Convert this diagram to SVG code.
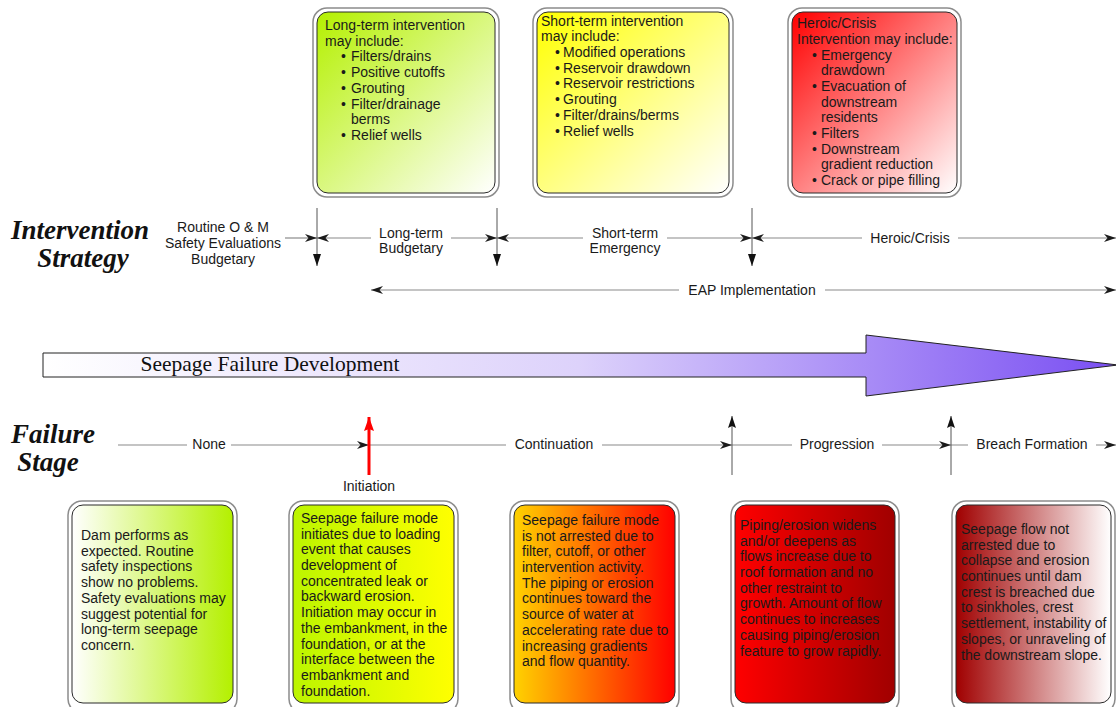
<svg xmlns="http://www.w3.org/2000/svg" width="1116" height="707" viewBox="0 0 1116 707">
<style>
.t{font-family:"Liberation Sans",Arial,sans-serif;font-size:14px;fill:#1a1a1a}
.c{text-anchor:middle}
.h{font-family:"Liberation Serif","Times New Roman",serif;font-weight:bold;font-style:italic;font-size:27px;fill:#111;text-anchor:middle}
.outer{fill:#fff;stroke:#8c8c8c;stroke-width:1.5}
.inner{stroke:#2a2a2a;stroke-width:1}
.hl{stroke:#8a8a8a;stroke-width:1.2;fill:none}
.vl{stroke:#555;stroke-width:1;fill:none}
.bg{fill:#fff}
</style>
<defs>
<marker id="ah" viewBox="0 0 12 8" refX="12" refY="4" markerWidth="12" markerHeight="8" markerUnits="userSpaceOnUse" orient="auto-start-reverse"><path d="M0,0 L12,4 L0,8 L3.5,4 z" fill="#1a1a1a"/></marker>
<marker id="tri" viewBox="0 0 12 8" refX="12" refY="4" markerWidth="12" markerHeight="8" markerUnits="userSpaceOnUse" orient="auto"><path d="M0,0 L12,4 L0,8 z" fill="#111"/></marker>
<marker id="up" viewBox="0 0 12 8" refX="12" refY="4" markerWidth="12" markerHeight="8" markerUnits="userSpaceOnUse" orient="auto"><path d="M0,0 L12,4 L0,8 L2,4 z" fill="#111"/></marker>
<marker id="red" viewBox="0 0 14 10" refX="14" refY="5" markerWidth="14" markerHeight="10" markerUnits="userSpaceOnUse" orient="auto"><path d="M0,0 L14,5 L0,10 L2,5 z" fill="#ff0000"/></marker>
<linearGradient id="gT1" x1="0" y1="0" x2="1" y2="1"><stop offset="0" stop-color="#b4f000"/><stop offset="1" stop-color="#ffffff"/></linearGradient>
<linearGradient id="gT2" x1="0" y1="0" x2="1" y2="1"><stop offset="0" stop-color="#ffff00"/><stop offset="1" stop-color="#ffffff"/></linearGradient>
<linearGradient id="gT3" x1="0" y1="0" x2="1" y2="1"><stop offset="0" stop-color="#ff0000"/><stop offset="1" stop-color="#ffffff"/></linearGradient>
<linearGradient id="gA" x1="0" y1="0" x2="1" y2="0"><stop offset="0" stop-color="#ffffff"/><stop offset="1" stop-color="#b4f000"/></linearGradient>
<linearGradient id="gB" x1="0" y1="0" x2="1" y2="0"><stop offset="0" stop-color="#bcf500"/><stop offset="1" stop-color="#ffff00"/></linearGradient>
<linearGradient id="gC" x1="0" y1="0" x2="1" y2="0"><stop offset="0" stop-color="#ffd200"/><stop offset="1" stop-color="#ff0000"/></linearGradient>
<linearGradient id="gD" x1="0" y1="0" x2="1" y2="0"><stop offset="0" stop-color="#ff0000"/><stop offset="1" stop-color="#a00000"/></linearGradient>
<linearGradient id="gE" x1="0" y1="0" x2="1" y2="0"><stop offset="0" stop-color="#a00000"/><stop offset="1" stop-color="#ffffff"/></linearGradient>
<linearGradient id="gArrow" gradientUnits="userSpaceOnUse" x1="43" y1="0" x2="1116" y2="0"><stop offset="0" stop-color="#ffffff"/><stop offset="0.5" stop-color="#ddd2fb"/><stop offset="1" stop-color="#7a4ff2"/></linearGradient>
</defs>

<g id="title-intervention">
<text class="h" x="80" y="239">Intervention</text>
<text class="h" x="83" y="267">Strategy</text>
</g>
<g id="title-failure">
<text class="h" x="53" y="443">Failure</text>
<text class="h" x="48" y="471">Stage</text>
</g>

<g id="box-longterm">
<rect class="outer" x="313" y="8" width="186" height="189" rx="14"/>
<rect class="inner" x="317" y="12" width="178" height="181" rx="11" fill="url(#gT1)"/>
<text class="t" x="325" y="30">Long-term intervention</text>
<text class="t" x="325" y="46">may include:</text>
<text class="t" x="341" y="61">•</text><text class="t" x="351" y="61">Filters/drains</text>
<text class="t" x="341" y="77">•</text><text class="t" x="351" y="77">Positive cutoffs</text>
<text class="t" x="341" y="93">•</text><text class="t" x="351" y="93">Grouting</text>
<text class="t" x="341" y="109">•</text><text class="t" x="351" y="109">Filter/drainage</text>
<text class="t" x="351" y="124">berms</text>
<text class="t" x="341" y="140">•</text><text class="t" x="351" y="140">Relief wells</text>
</g>

<g id="box-shortterm">
<rect class="outer" x="533" y="8" width="200" height="189" rx="14"/>
<rect class="inner" x="537" y="12" width="192" height="181" rx="11" fill="url(#gT2)"/>
<text class="t" x="541" y="26">Short-term intervention</text>
<text class="t" x="541" y="41">may include:</text>
<text class="t" x="555" y="57">•</text><text class="t" x="563" y="57">Modified operations</text>
<text class="t" x="555" y="73">•</text><text class="t" x="563" y="73">Reservoir drawdown</text>
<text class="t" x="555" y="88">•</text><text class="t" x="563" y="88">Reservoir restrictions</text>
<text class="t" x="555" y="104">•</text><text class="t" x="563" y="104">Grouting</text>
<text class="t" x="555" y="120">•</text><text class="t" x="563" y="120">Filter/drains/berms</text>
<text class="t" x="555" y="136">•</text><text class="t" x="563" y="136">Relief wells</text>
</g>

<g id="box-heroic">
<rect class="outer" x="788" y="8" width="173" height="189" rx="14"/>
<rect class="inner" x="792" y="12" width="165" height="181" rx="11" fill="url(#gT3)"/>
<text class="t" x="797" y="28">Heroic/Crisis</text>
<text class="t" x="797" y="44">Intervention may include:</text>
<text class="t" x="812" y="60">•</text><text class="t" x="821" y="60">Emergency</text>
<text class="t" x="821" y="75">drawdown</text>
<text class="t" x="812" y="91">•</text><text class="t" x="821" y="91">Evacuation of</text>
<text class="t" x="821" y="107">downstream</text>
<text class="t" x="821" y="122">residents</text>
<text class="t" x="812" y="138">•</text><text class="t" x="821" y="138">Filters</text>
<text class="t" x="812" y="154">•</text><text class="t" x="821" y="154">Downstream</text>
<text class="t" x="821" y="169">gradient reduction</text>
<text class="t" x="812" y="185">•</text><text class="t" x="821" y="185">Crack or pipe filling</text>
</g>

<g id="connectors">
<line class="hl" x1="285" y1="238" x2="317" y2="238" marker-end="url(#ah)"/>
<line class="hl" x1="317" y1="238" x2="497" y2="238" marker-start="url(#ah)" marker-end="url(#ah)"/>
<line class="hl" x1="497" y1="238" x2="752" y2="238" marker-start="url(#ah)" marker-end="url(#ah)"/>
<line class="hl" x1="752" y1="238" x2="1116" y2="238" marker-start="url(#ah)" marker-end="url(#ah)"/>
<line class="vl" x1="317" y1="208" x2="317" y2="266" marker-end="url(#tri)"/>
<line class="vl" x1="497" y1="208" x2="497" y2="266" marker-end="url(#tri)"/>
<line class="vl" x1="752" y1="208" x2="752" y2="266" marker-end="url(#tri)"/>
<line class="hl" x1="371" y1="290" x2="1116" y2="290" marker-start="url(#ah)" marker-end="url(#ah)"/>

<line class="hl" x1="118" y1="445" x2="369" y2="445" marker-end="url(#ah)"/>
<line class="hl" x1="369" y1="445" x2="732" y2="445" marker-end="url(#ah)"/>
<line class="hl" x1="732" y1="445" x2="951" y2="445" marker-end="url(#ah)"/>
<line class="hl" x1="951" y1="445" x2="1116" y2="445" marker-end="url(#ah)"/>
<line class="vl" x1="732" y1="475" x2="732" y2="416" marker-end="url(#up)"/>
<line class="vl" x1="951" y1="475" x2="951" y2="416" marker-end="url(#up)"/>
<line class="vl" x1="1121" y1="475" x2="1121" y2="416" marker-end="url(#up)"/>
<line x1="369" y1="475" x2="369" y2="417" stroke="#ff0000" stroke-width="3" marker-end="url(#red)"/>
</g>

<g id="labels">
<text class="t c" x="223" y="232">Routine O &amp; M</text>
<text class="t c" x="223" y="248">Safety Evaluations</text>
<text class="t c" x="223" y="264">Budgetary</text>
<rect class="bg" x="371" y="226" width="80" height="30"/>
<text class="t c" x="411" y="238">Long-term</text>
<text class="t c" x="411" y="253">Budgetary</text>
<rect class="bg" x="583" y="226" width="84" height="30"/>
<text class="t c" x="625" y="238">Short-term</text>
<text class="t c" x="625" y="253">Emergency</text>
<rect class="bg" x="862" y="230" width="96" height="16"/>
<text class="t c" x="910" y="243">Heroic/Crisis</text>
<rect class="bg" x="679" y="282" width="146" height="16"/>
<text class="t c" x="752" y="295">EAP Implementation</text>
<rect class="bg" x="187" y="437" width="44" height="16"/>
<text class="t c" x="209" y="449">None</text>
<rect class="bg" x="506" y="437" width="96" height="16"/>
<text class="t c" x="554" y="449">Continuation</text>
<rect class="bg" x="792" y="437" width="90" height="16"/>
<text class="t c" x="837" y="449">Progression</text>
<rect class="bg" x="968" y="437" width="128" height="16"/>
<text class="t c" x="1032" y="449">Breach Formation</text>
<text class="t c" x="369" y="491">Initiation</text>
</g>

<g id="seepage-arrow">
<path d="M43,353 L866,353 L866,335 L1118,365 L866,396 L866,377 L43,377 Z" fill="url(#gArrow)" stroke="#222" stroke-width="1"/>
<text x="270" y="371" font-family="'Liberation Serif','Times New Roman',serif" font-size="21.5" fill="#111" text-anchor="middle">Seepage Failure Development</text>
</g>

<g id="box-none">
<rect class="outer" x="68" y="501" width="169" height="212" rx="14"/>
<rect class="inner" x="72" y="505" width="161" height="198" rx="11" fill="url(#gA)"/>
<text class="t" x="81" y="540">Dam performs as</text>
<text class="t" x="81" y="556">expected. Routine</text>
<text class="t" x="81" y="571">safety inspections</text>
<text class="t" x="81" y="587">show no problems.</text>
<text class="t" x="81" y="603">Safety evaluations may</text>
<text class="t" x="81" y="619">suggest potential for</text>
<text class="t" x="81" y="634">long-term seepage</text>
<text class="t" x="81" y="650">concern.</text>
</g>

<g id="box-initiation">
<rect class="outer" x="289" y="501" width="169" height="212" rx="14"/>
<rect class="inner" x="293" y="505" width="161" height="198" rx="11" fill="url(#gB)"/>
<text class="t" x="301" y="523">Seepage failure mode</text>
<text class="t" x="301" y="539">initiates due to loading</text>
<text class="t" x="301" y="554">event that causes</text>
<text class="t" x="301" y="570">development of</text>
<text class="t" x="301" y="586">concentrated leak or</text>
<text class="t" x="301" y="601">backward erosion.</text>
<text class="t" x="301" y="617">Initiation may occur in</text>
<text class="t" x="301" y="633">the embankment, in the</text>
<text class="t" x="301" y="649">foundation, or at the</text>
<text class="t" x="301" y="664">interface between the</text>
<text class="t" x="301" y="680">embankment and</text>
<text class="t" x="301" y="696">foundation.</text>
</g>

<g id="box-continuation">
<rect class="outer" x="510" y="501" width="169" height="212" rx="14"/>
<rect class="inner" x="514" y="505" width="161" height="198" rx="11" fill="url(#gC)"/>
<text class="t" x="522" y="525">Seepage failure mode</text>
<text class="t" x="522" y="541">is not arrested due to</text>
<text class="t" x="522" y="556">filter, cutoff, or other</text>
<text class="t" x="522" y="572">intervention activity.</text>
<text class="t" x="522" y="588">The piping or erosion</text>
<text class="t" x="522" y="603">continues toward the</text>
<text class="t" x="522" y="619">source of water at</text>
<text class="t" x="522" y="635">accelerating rate due to</text>
<text class="t" x="522" y="651">increasing gradients</text>
<text class="t" x="522" y="666">and flow quantity.</text>
</g>

<g id="box-progression">
<rect class="outer" x="731" y="501" width="168" height="212" rx="14"/>
<rect class="inner" x="735" y="505" width="160" height="198" rx="11" fill="url(#gD)"/>
<text class="t" x="740" y="530">Piping/erosion widens</text>
<text class="t" x="740" y="546">and/or deepens as</text>
<text class="t" x="740" y="561">flows increase due to</text>
<text class="t" x="740" y="577">roof formation and no</text>
<text class="t" x="740" y="593">other restraint to</text>
<text class="t" x="740" y="608">growth. Amount of flow</text>
<text class="t" x="740" y="624">continues to increases</text>
<text class="t" x="740" y="640">causing piping/erosion</text>
<text class="t" x="740" y="656">feature to grow rapidly.</text>
</g>

<g id="box-breach">
<rect class="outer" x="952" y="501" width="163" height="212" rx="14"/>
<rect class="inner" x="956" y="505" width="155" height="198" rx="11" fill="url(#gE)"/>
<text class="t" x="961" y="534">Seepage flow not</text>
<text class="t" x="961" y="550">arrested due to</text>
<text class="t" x="961" y="565">collapse and erosion</text>
<text class="t" x="961" y="581">continues until dam</text>
<text class="t" x="961" y="597">crest is breached due</text>
<text class="t" x="961" y="612">to sinkholes, crest</text>
<text class="t" x="961" y="628">settlement, instability of</text>
<text class="t" x="961" y="644">slopes, or unraveling of</text>
<text class="t" x="961" y="660">the downstream slope.</text>
</g>
</svg>
